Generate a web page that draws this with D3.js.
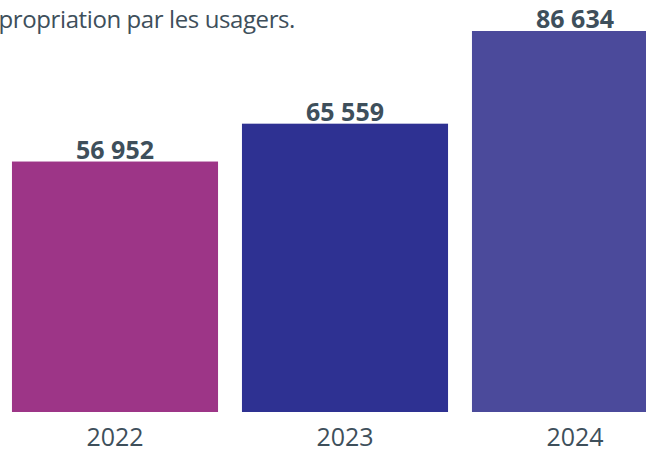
<!DOCTYPE html>
<html>
<head>
<meta charset="utf-8">
<script src="https://cdn.jsdelivr.net/npm/d3@7"></script>
<style>
  html, body { margin: 0; padding: 0; background: #fff; overflow: hidden; }
  svg { display: block; }
</style>
</head>
<body>
<div id="chart"></div>
<script>
// Nombre d'usagers par année
const years = ["2022", "2023", "2024"];
const usagers = [56952, 65559, 86634];
const barColors = ["#9d3587", "#2e3192", "#4b4a9b"];
const introText = "appropriation par les usagers.";

const W = 646, H = 459;
const baseY = 412;
const textColor = "#3e4f5b";
const font = "'Open Sans', 'Noto Sans', sans-serif";

const svg = d3.select("#chart").append("svg")
  .attr("width", W).attr("height", H);

const x = d3.scaleBand()
  .domain(years)
  .range([0, 690])
  .paddingInner(0.104)
  .paddingOuter(0.052);

const y = d3.scaleLinear()
  .domain([0, d3.max(usagers)])
  .range([baseY, 31]);

const fmt = v => d3.format(",")(v).replace(/,/g, " ");

const data = years.map((yr, i) => ({ year: yr, value: usagers[i], color: barColors[i] }));

// Texte d'introduction (coupé à gauche)
svg.append("text")
  .attr("x", 295).attr("y", 28)
  .attr("text-anchor", "end")
  .attr("fill", textColor)
  .style("font-family", font)
  .style("font-size", "24px")
  .style("letter-spacing", "-0.4px")
  .text(introText);

// Barres
svg.selectAll("rect.bar").data(data).join("rect")
  .attr("class", "bar")
  .attr("x", d => x(d.year))
  .attr("width", x.bandwidth())
  .attr("y", d => y(d.value))
  .attr("height", d => baseY - y(d.value))
  .attr("fill", d => d.color);

// Valeurs au-dessus des barres
svg.selectAll("text.val").data(data).join("text")
  .attr("class", "val")
  .attr("x", d => x(d.year) + x.bandwidth() / 2)
  .attr("y", d => y(d.value) - 3)
  .attr("text-anchor", "middle")
  .attr("fill", textColor)
  .style("font-family", font)
  .style("font-size", "25px")
  .style("font-weight", "700")
  .text(d => fmt(d.value));

// Axe des années
const xAxis = svg.append("g")
  .attr("transform", `translate(0,${baseY})`)
  .call(d3.axisBottom(x).tickSize(0).tickPadding(16));
xAxis.select(".domain").remove();
xAxis.selectAll("text")
  .attr("fill", textColor)
  .style("font-family", font)
  .style("font-size", "25px")
  .style("font-weight", "400");
</script>
</body>
</html>
